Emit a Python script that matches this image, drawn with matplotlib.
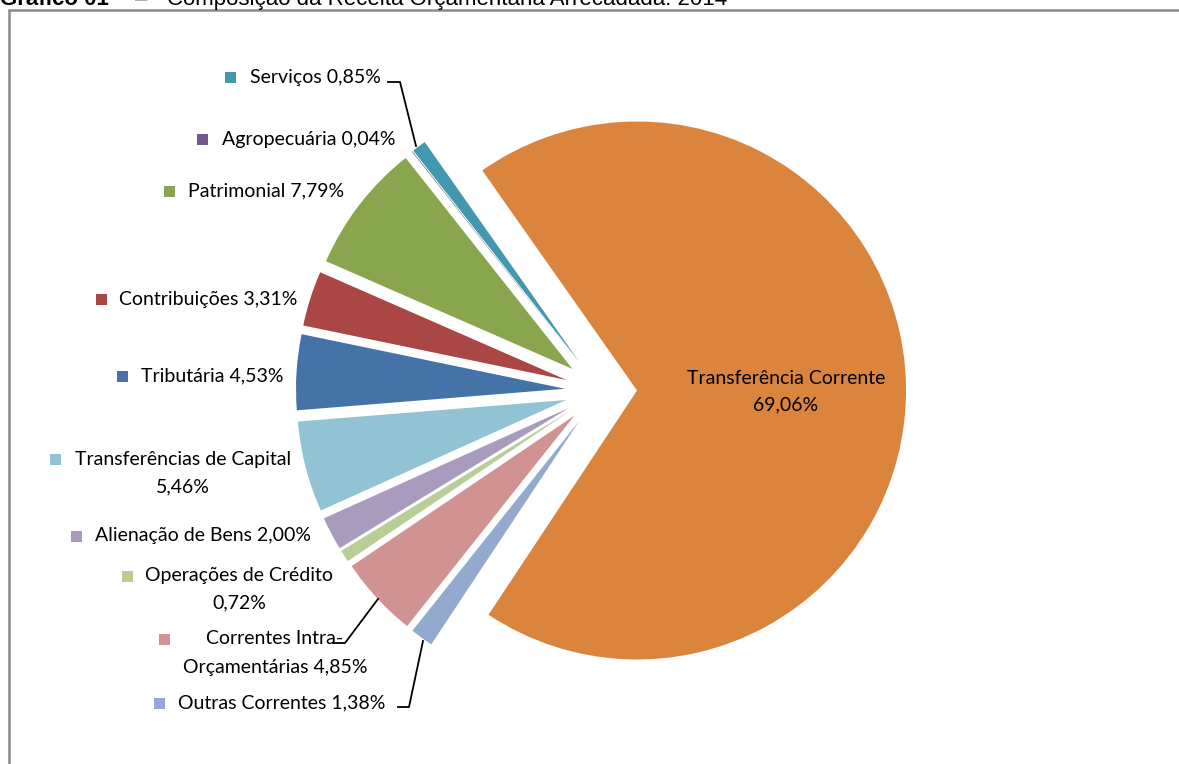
import matplotlib
matplotlib.use("Agg")
import matplotlib.pyplot as plt
from matplotlib.patches import Rectangle

# data (Excel series order)
categorias = ['Tributária', 'Contribuições', 'Patrimonial', 'Agropecuária', 'Serviços',
              'Transferência Corrente', 'Outras Correntes', 'Correntes Intra-Orçamentárias',
              'Operações de Crédito', 'Alienação de Bens', 'Transferências de Capital']
valores = [4.53, 3.31, 7.79, 0.04, 0.85, 69.06, 1.38, 4.85, 0.72, 2.00, 5.46]
cores = ['#4572A7', '#AA4643', '#89A54E', '#71588F', '#4198AF', '#DB843D',
         '#93A9CF', '#D19392', '#B9CD96', '#A99BBD', '#92C3D4']

W, H = 1179, 764
CX, CY, R = 601, 391, 269   # pie centre / radius in pixels


def px(x, y):
    # pixel (from top-left) -> data coords
    return (x - CX) / R, (CY - y) / R


def fmt(v):
    return f'{v:.2f}'.replace('.', ',') + '%'


fig = plt.figure(figsize=(W / 100, H / 100), dpi=100)
ax = fig.add_axes([0, 0, 1, 1])

ax.pie(valores, colors=cores, startangle=184.6, counterclock=False,
       explode=[0.134] * len(valores), radius=1.0,
       wedgeprops=dict(linewidth=0))
ax.set_xlim(-CX / R, (W - CX) / R)
ax.set_ylim(-(H - CY) / R, CY / R)
ax.set_aspect('auto')
ax.axis('off')

font = 'Lato'
fs = 14
SQ = 11

# single-line labels: (square centre x, text left x, y) in pixels
simples = {
    'Serviços': (231, 250, 77),
    'Agropecuária': (203, 222, 139),
    'Patrimonial': (170, 188, 191),
    'Contribuições': (102, 119, 299),
    'Tributária': (123, 141, 376),
    'Alienação de Bens': (77, 95, 536),
    'Outras Correntes': (160, 178, 703),
}
# two-line labels: (square x, square y, block centre x, line1 y, line2 y, line1 text)
duplas = {
    'Transferências de Capital': (56, 459, 183, 459, 487, 'Transferências de Capital'),
    'Operações de Crédito': (128, 576, 239, 576, 603, 'Operações de Crédito'),
    'Correntes Intra-Orçamentárias': (165, 639, 275, 639, 667, 'Correntes Intra-'),
}


def quadrado(x, y, c):
    ax.add_patch(Rectangle(px(x - SQ / 2, y + SQ / 2), SQ / R, SQ / R, color=c, lw=0))


for cat, v, c in zip(categorias, valores, cores):
    if cat in simples:
        sx, tx, ty = simples[cat]
        quadrado(sx, ty, c)
        ax.text(*px(tx, ty), f'{cat} {fmt(v)}', family=font, fontsize=fs,
                va='center', ha='left', color='black')
    elif cat in duplas:
        sx, sy, bx, y1, y2, l1 = duplas[cat]
        quadrado(sx, sy, c)
        l2 = fmt(v)
        if l1 != cat:
            l2 = cat[len(l1):] + ' ' + fmt(v)
        ax.text(*px(bx, y1), l1, family=font, fontsize=fs, va='center', ha='center')
        ax.text(*px(bx, y2), l2, family=font, fontsize=fs, va='center', ha='center')

# label inside the big slice
i = categorias.index('Transferência Corrente')
ax.text(*px(786, 378), categorias[i], family=font, fontsize=fs, ha='center', va='center')
ax.text(*px(786, 405), fmt(valores[i]), family=font, fontsize=fs, ha='center', va='center')

# leader lines
linhas = [
    [(388, 82), (400, 82), (416, 146)],
    [(333, 643), (345, 643), (378, 599)],
    [(398, 707), (409, 707), (423, 641)],
]
for pts in linhas:
    xs, ys = zip(*[px(x, y) for x, y in pts])
    ax.plot(xs, ys, color='black', lw=1.3)

# frame
fig.add_artist(Rectangle((8.5 / W, -0.1), 2, (H - 10) / H + 0.1, transform=fig.transFigure,
                         fill=False, edgecolor='#8a8a8a', lw=1.8))

# title (partly cut off by the top of the image)
ty = 1 - 5 / H
fig.text(0.0, ty, 'Gráfico 01', family='Liberation Sans', fontsize=16,
         fontweight='bold', va='baseline', ha='left')
fig.text(141 / W, ty, '–', family='Liberation Sans', fontsize=16, va='baseline', ha='center')
fig.text(167 / W, ty, 'Composição da Receita Orçamentária Arrecadada: 2014',
         family='Liberation Sans', fontsize=16, va='baseline', ha='left')

fig.savefig('out.png', dpi=100)
